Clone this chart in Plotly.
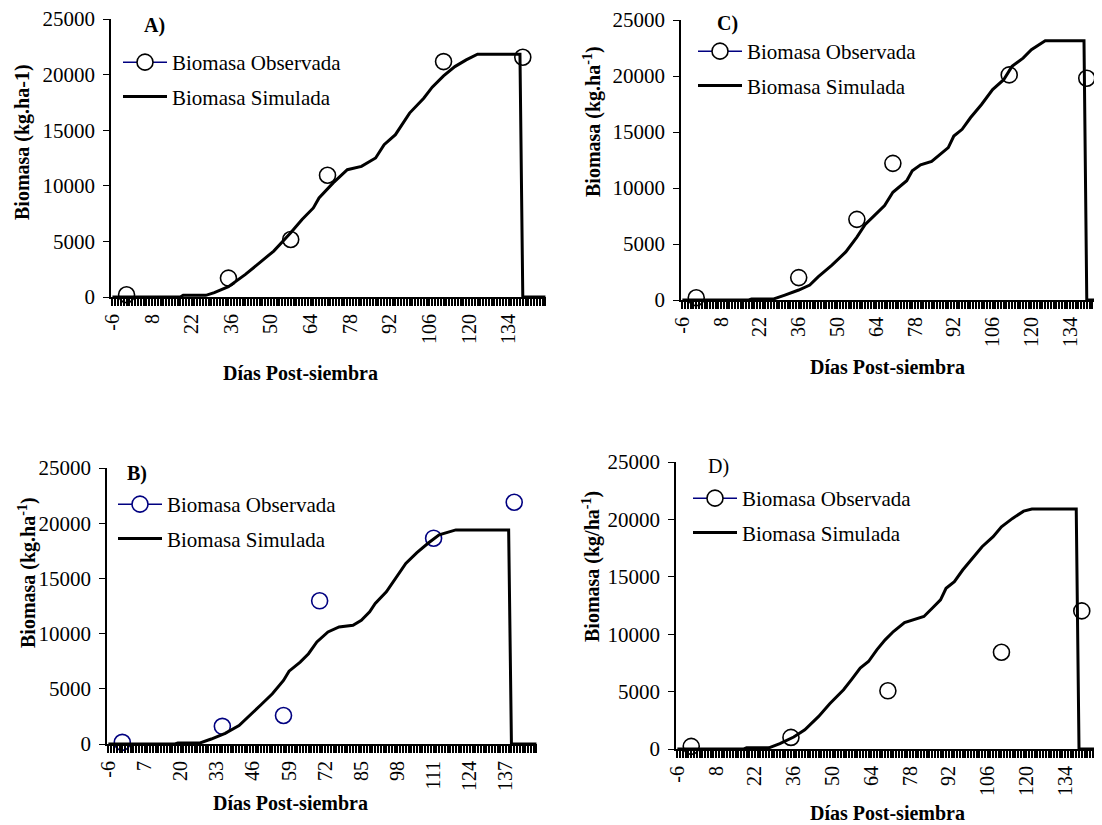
import plotly.graph_objects as go

# page body has an 8px default margin; figure is sized to fit inside the window
OFF = 8
W, H = 1102 - OFF, 825 - OFF

# ---------------- data ----------------
# Panel A
simA_days = [-6, 18, 19, 27, 30, 35, 41, 46, 51, 57, 61, 65, 67, 72, 77, 82, 87, 90, 94, 99, 104, 107, 111, 115, 119, 123, 138, 139, 147]
simA_vals = [0, 0, 150, 150, 390, 930, 2030, 3080, 4130, 5770, 6970, 8010, 8910, 10260, 11450, 11750, 12500, 13700, 14600, 16540, 17880, 18870, 19890, 20720, 21320, 21830, 21830, 0, 0]
obsA_days = [-1, 35, 57, 70, 111, 139]
obsA_vals = [200, 1700, 5170, 10950, 21170, 21560]

# Panel C
simC_days = [-6, 18, 19, 27, 31, 36, 40, 43, 48, 53, 57, 60, 63, 67, 70, 75, 77, 80, 84, 87, 90, 92, 95, 98, 102, 106, 110, 113, 117, 120, 125, 139, 140, 147]
simC_vals = [0, 0, 100, 100, 440, 890, 1330, 2070, 3110, 4290, 5620, 6750, 7460, 8430, 9620, 10650, 11540, 12070, 12370, 13020, 13610, 14640, 15240, 16270, 17460, 18790, 19670, 20860, 21600, 22340, 23140, 23140, 0, 0]
obsC_days = [-1, 36, 57, 70, 112, 140]
obsC_vals = [200, 2000, 7200, 12200, 20100, 19800]

# Panel B
simB_days = [-6, 18, 19, 27, 31, 36, 41, 45, 49, 53, 57, 59, 63, 66, 69, 73, 77, 82, 85, 88, 90, 94, 96, 99, 101, 105, 109, 113, 119, 138, 139, 148]
simB_vals = [0, 0, 100, 100, 450, 970, 1670, 2580, 3580, 4550, 5760, 6600, 7420, 8180, 9240, 10150, 10600, 10760, 11200, 11970, 12730, 13790, 14550, 15600, 16360, 17330, 18180, 18940, 19390, 19390, 0, 0]
obsB_days = [-1, 35, 57, 70, 111, 140]
obsB_vals = [150, 1600, 2580, 12970, 18640, 21900]

# Panel D
simD_days = [-6, 18, 19, 27, 31, 36, 40, 45, 49, 54, 57, 60, 63, 66, 69, 72, 76, 79, 83, 86, 89, 91, 94, 97, 101, 104, 108, 111, 115, 119, 122, 138, 139, 148]
simD_vals = [0, 0, 100, 100, 460, 1040, 1680, 2840, 3940, 5160, 6090, 7040, 7620, 8640, 9510, 10230, 11010, 11250, 11540, 12260, 12990, 14000, 14580, 15590, 16750, 17620, 18490, 19360, 20090, 20720, 20900, 20900, 0, 0]
obsD_days = [-1, 35, 70, 111, 140]
obsD_vals = [230, 1010, 5070, 8430, 12030]

ticks_14 = [-6, 8, 22, 36, 50, 64, 78, 92, 106, 120, 134]
ticks_13 = [-6, 7, 20, 33, 46, 59, 72, 85, 98, 111, 124, 137]
day_categories = list(range(-6, 149))

FONT = "Liberation Serif, Times New Roman, serif"
NAVY = "#000080"


def gapped(xs, ys):
    ox, oy = [], []
    for x, y in zip(xs, ys):
        ox += [x, None]
        oy += [y, None]
    return ox, oy


def px(x):
    return (x - OFF) / W


def py(y):
    return 1 - (y - OFF) / H


fig = go.Figure()

panels = [
    dict(ax="", leg="legend", sim=(simA_days, simA_vals), obs=(obsA_days, obsA_vals), ticks=ticks_14,
         xd=(111, 546), yd=(19, 297), xr=[-6.5, 147.2], mcol="black", lx=118, ly=42),
    dict(ax="2", leg="legend2", sim=(simC_days, simC_vals), obs=(obsC_days, obsC_vals), ticks=ticks_14,
         xd=(681, 1102), yd=(20, 300), xr=[-6.5, 145.5], mcol="black", lx=693, ly=31),
    dict(ax="3", leg="legend3", sim=(simB_days, simB_vals), obs=(obsB_days, obsB_vals), ticks=ticks_13,
         xd=(107, 537), yd=(468, 744), xr=[-6.5, 148.2], mcol=NAVY, lx=113, ly=484),
    dict(ax="4", leg="legend4", sim=(simD_days, simD_vals), obs=(obsD_days, obsD_vals), ticks=ticks_14,
         xd=(676, 1102), yd=(462, 749), xr=[-6.5, 147.3], mcol="black", lx=688, ly=478),
]

layout = dict(
    width=W, height=H, margin=dict(l=0, r=0, t=0, b=0, autoexpand=False),
    paper_bgcolor="white", plot_bgcolor="white",
    font=dict(family=FONT, size=20, color="black"),
    showlegend=True,
)

for p in panels:
    ax = p["ax"]
    xname = "x" + ax
    yname = "y" + ax
    ox, oy = gapped(*p["obs"])
    xdom = [px(p["xd"][0]), min(1.0, px(p["xd"][1]))]
    fig.add_trace(go.Scatter(
        x=ox, y=oy, mode="lines+markers", name="Biomasa Observada",
        xaxis=xname, yaxis=yname, legend=p["leg"], legendgroup="obs" + ax,
        connectgaps=False, cliponaxis=False,
        line=dict(color=NAVY, width=1.5),
        marker=dict(symbol="circle", size=16, color="white", line=dict(color=p["mcol"], width=1.6)),
    ))
    fig.add_trace(go.Scatter(
        x=p["sim"][0], y=p["sim"][1], mode="lines", name="Biomasa Simulada",
        xaxis=xname, yaxis=yname, legend=p["leg"], legendgroup="sim" + ax,
        line=dict(color="black", width=3),
    ))
    labels = set(p["ticks"])
    layout["xaxis" + ax] = dict(
        domain=xdom, range=p["xr"], anchor=yname,
        showline=True, linecolor="black", linewidth=2, showgrid=False, zeroline=False,
        ticks="outside", ticklen=7, tickwidth=1.5, tickcolor="black",
        tickmode="array", tickvals=day_categories,
        ticktext=[str(d) if d in labels else " " for d in day_categories],
        tickangle=-90, tickfont=dict(family=FONT, size=20, color="black"),
    )
    layout["yaxis" + ax] = dict(
        domain=[py(p["yd"][1]), py(p["yd"][0])], range=[0, 25000], anchor=xname,
        showline=True, linecolor="black", linewidth=1.5, showgrid=False, zeroline=False,
        ticks="outside", ticklen=6, tickwidth=1.2, tickcolor="black",
        dtick=5000, tick0=0, tickformat="d", ticklabelstandoff=4,
        tickfont=dict(family=FONT, size=21, color="black"),
        ticklabeloverflow="allow",
    )
    layout[p["leg"]] = dict(
        x=px(p["lx"]), y=py(p["ly"]), xanchor="left", yanchor="top",
        bgcolor="rgba(0,0,0,0)", borderwidth=0,
        font=dict(family=FONT, size=21, color="black"),
        traceorder="grouped", tracegroupgap=4, itemwidth=44,
    )

fig.update_layout(**layout)

annots = [
    (154, 25, "<b>A)</b>", 0),
    (727, 23, "<b>C)</b>", 0),
    (137, 473, "<b>B)</b>", 0),
    (718, 467, "D)", 0),
    (22, 142, "<b>Biomasa (kg.ha-1)</b>", -90),
    (592, 122, "<b>Biomasa (kg.ha<sup>-1</sup>)</b>", -90),
    (27, 573, "<b>Biomasa (kg.ha<sup>-1</sup>)</b>", -90),
    (591, 567, "<b>Biomasa (kg/ha<sup>-1</sup>)</b>", -90),
    (300, 373, "<b>Días Post-siembra</b>", 0),
    (887, 367, "<b>Días Post-siembra</b>", 0),
    (290, 803, "<b>Días Post-siembra</b>", 0),
    (887, 813, "<b>Días Post-siembra</b>", 0),
]
for x, y, t, ang in annots:
    fig.add_annotation(x=px(x), y=py(y), xref="paper", yref="paper", text=t, showarrow=False,
                       textangle=ang, xanchor="center", yanchor="middle",
                       font=dict(family=FONT, size=20, color="black"))

fig.write_html("out.html")
